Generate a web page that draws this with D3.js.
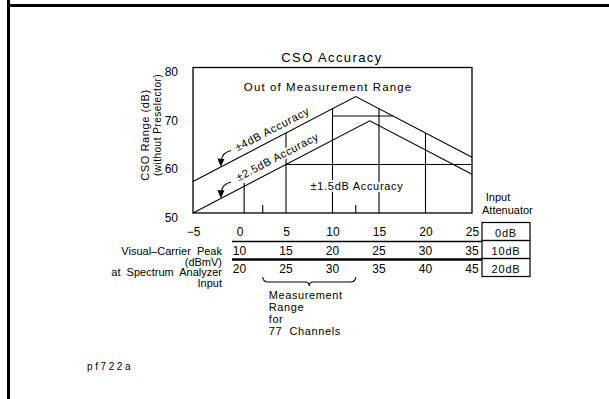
<!DOCTYPE html>
<html>
<head>
<meta charset="utf-8">
<script src="https://cdn.jsdelivr.net/npm/d3@7"></script>
<style>
  body { margin: 0; background: #fff; }
  svg text { font-family: "Liberation Sans", Arial, sans-serif; fill: #000; }
  .halo { paint-order: stroke; stroke: #fff; stroke-width: 4px; stroke-linejoin: round; }
</style>
</head>
<body>
<svg id="chart" width="609" height="399"></svg>
<script>
// Input level at the analyzer with the 0 dB attenuator setting (dBmV)
const inputTicks = [-5, 0, 5, 10, 15, 20, 25];
// CSO range axis (dB)
const rangeTicks = [50, 60, 70, 80];
// Limit curves: [input dBmV, CSO range dB]
const limit4dB = [[-5, 56.5], [12.5, 74], [25, 61.5]];
const limit25dB = [[-5, 50], [14, 69], [25, 58]];
// Horizontal zone boundaries
const boundary60 = [[5, 60], [25, 60]];
const boundary70 = [[10, 70], [16.5, 70]];
// Vertical dividers: [input, bottom dB, top dB]
const dividers = [[0.5, 50, 56.2], [5, 50, 66.5], [10, 50, 71.5], [15, 50, 71.5], [20, 50, 66.5]];
// Measurement range for 77 channels (input dBmV)
const measRange = [2.5, 12.5];
// Peak level rows for the other attenuator settings
const attenuators = ["0dB", "10dB", "20dB"];
const peakColumns = [0, 5, 10, 15, 20, 25];
const peakRow10 = [10, 15, 20, 25, 30, 35];
const peakRow20 = [20, 25, 30, 35, 40, 45];
// Arrows pointing at the limit curves: start and tip, [input, dB]
const arrows = [
  { from: [-0.9, 62.9], tip: [-2, 59.5] },
  { from: [-0.9, 56.4], tip: [-2, 53] }
];

const svg = d3.select("#chart");
const x = d3.scaleLinear().domain([-5, 25]).range([193, 472]);
const y = d3.scaleLinear().domain([50, 80]).range([213, 67.5]);
const rowY = d3.scalePoint().domain([0, 1, 2]).range([232, 268]);

// Page frame
svg.append("line").attr("x1", 7).attr("x2", 609).attr("y1", 5.5).attr("y2", 5.5)
  .attr("stroke", "#000").attr("stroke-width", 3);
svg.append("line").attr("x1", 8.5).attr("x2", 8.5).attr("y1", 0).attr("y2", 399)
  .attr("stroke", "#000").attr("stroke-width", 3);

// Title
svg.append("text").attr("x", 332).attr("y", 62).attr("text-anchor", "middle")
  .style("font-size", "13px").style("letter-spacing", "1.4px").text("CSO Accuracy");

// Plot frame
svg.append("rect").attr("x", x(-5)).attr("y", y(80))
  .attr("width", x(25) - x(-5)).attr("height", y(50) - y(80))
  .attr("fill", "none").attr("stroke", "#000").attr("stroke-width", 1.3);

const line = d3.line().x(d => x(d[0])).y(d => y(d[1]));
const plot = svg.append("g").attr("fill", "none").attr("stroke", "#000").attr("stroke-width", 1.1);

plot.selectAll(".div").data(dividers).join("line")
  .attr("x1", d => x(d[0])).attr("x2", d => x(d[0]))
  .attr("y1", d => y(d[1])).attr("y2", d => y(d[2]));
[limit4dB, limit25dB, boundary60, boundary70].forEach(p => plot.append("path").attr("d", line(p)));

// Measurement-range ticks on the bottom of the plot
plot.selectAll(".mr").data(measRange).join("line")
  .attr("x1", d => x(d)).attr("x2", d => x(d))
  .attr("y1", y(50) - 8).attr("y2", y(50));

// Arrows
arrows.forEach(a => {
  const sx = x(a.from[0]), sy = y(a.from[1]);
  const tx = x(a.tip[0]), ty = y(a.tip[1]);
  plot.append("path")
    .attr("d", `M${sx},${sy} Q${tx + 1.5},${sy + 2} ${tx + 0.5},${ty - 7}`);
  svg.append("path")
    .attr("d", `M${tx - 3.5},${ty - 8.5} L${tx + 3.5},${ty - 8} L${tx},${ty} Z`)
    .attr("fill", "#000");
});

// Zone labels
const angle = -Math.atan((y(50) - y(51)) / (x(1) - x(0))) * 180 / Math.PI;
svg.append("text").attr("x", 328).attr("y", 91).attr("text-anchor", "middle")
  .style("font-size", "11.5px").style("letter-spacing", "1.1px").text("Out of Measurement Range");
svg.append("text").attr("class", "halo")
  .attr("transform", `translate(${x(4)},${y(65.5)}) rotate(${angle})`)
  .attr("y", -6).attr("text-anchor", "middle")
  .style("font-size", "11px").style("letter-spacing", "0.7px").text("±4dB Accuracy");
svg.append("text").attr("class", "halo")
  .attr("transform", `translate(${x(4.6)},${y(59.6)}) rotate(${angle})`)
  .attr("y", -7).attr("text-anchor", "middle")
  .style("font-size", "11px").style("letter-spacing", "0.6px").text("±2.5dB Accuracy");
svg.append("text").attr("class", "halo")
  .attr("x", 357).attr("y", 190).attr("text-anchor", "middle")
  .style("font-size", "11px").style("letter-spacing", "0.7px").text("±1.5dB Accuracy");

// Axes
const yAxis = svg.append("g").attr("transform", `translate(${x(-5)},0)`)
  .call(d3.axisLeft(y).tickValues(rangeTicks).tickSize(0).tickPadding(15));
yAxis.select(".domain").remove();
yAxis.selectAll("text").attr("dy", "0.85em").attr("y", -2)
  .style("font-size", "12px").style("font-family", "'Liberation Sans', Arial, sans-serif");

const xAxis = svg.append("g").attr("transform", `translate(0,${y(50)})`)
  .call(d3.axisBottom(x).tickValues(inputTicks).tickSize(0).tickPadding(14));
xAxis.select(".domain").remove();
xAxis.selectAll("text").style("font-size", "12px")
  .style("font-family", "'Liberation Sans', Arial, sans-serif");

// Axis title
svg.append("text").attr("transform", `translate(149,135) rotate(-90)`)
  .attr("text-anchor", "middle").style("font-size", "11px").style("letter-spacing", "0.6px")
  .text("CSO Range (dB)");
svg.append("text").attr("transform", `translate(161,125) rotate(-90)`)
  .attr("text-anchor", "middle").style("font-size", "10px").style("letter-spacing", "0.5px")
  .text("(without Preselector)");

// Attenuator rows
[peakRow10, peakRow20].forEach((row, i) => {
  svg.append("g").selectAll("text").data(row).join("text")
    .attr("x", (d, j) => x(peakColumns[j]))
    .attr("y", rowY(i + 1) + 4.5).attr("text-anchor", "middle")
    .style("font-size", "12px").text(d => d);
});
svg.append("line").attr("x1", 232).attr("x2", 482).attr("y1", 241.5).attr("y2", 241.5)
  .attr("stroke", "#000").attr("stroke-width", 1.5);
svg.append("line").attr("x1", 232).attr("x2", 482).attr("y1", 259.5).attr("y2", 259.5)
  .attr("stroke", "#000").attr("stroke-width", 2.5);

const boxes = svg.append("g");
boxes.selectAll("rect").data(attenuators).join("rect")
  .attr("x", 482).attr("y", (d, i) => rowY(i) - 9.5).attr("width", 48).attr("height", 18)
  .attr("fill", "none").attr("stroke", "#000").attr("stroke-width", 1.2);
boxes.selectAll("text").data(attenuators).join("text")
  .attr("x", 506).attr("y", (d, i) => rowY(i) + 4.5).attr("text-anchor", "middle")
  .style("font-size", "11px").style("letter-spacing", "0.8px").text(d => d);
svg.append("text").attr("x", 498).attr("y", 201).attr("text-anchor", "middle")
  .style("font-size", "11px").text("Input");
svg.append("text").attr("x", 482).attr("y", 214)
  .style("font-size", "11px").text("Attenuator");

// Row caption
const caption = ["Visual–Carrier  Peak", "(dBmV)", "at  Spectrum  Analyzer", "Input"];
svg.append("g").selectAll("text").data(caption).join("text")
  .attr("x", 222).attr("y", (d, i) => 255 + i * 10.5).attr("text-anchor", "end")
  .style("font-size", "11px").style("white-space", "pre").text(d => d);

// Measurement range brace
const bx0 = x(measRange[0]), bx1 = x(measRange[1]), bm = (bx0 + bx1) / 2, bt = 277;
svg.append("path")
  .attr("d", `M${bx0},${bt} Q${bx0},${bt + 5} ${bx0 + 6},${bt + 5} L${bm - 4},${bt + 5} Q${bm},${bt + 5} ${bm},${bt + 9} Q${bm},${bt + 5} ${bm + 4},${bt + 5} L${bx1 - 6},${bt + 5} Q${bx1},${bt + 5} ${bx1},${bt}`)
  .attr("fill", "none").attr("stroke", "#000").attr("stroke-width", 1.1);
const measText = ["Measurement", "Range", "for", "77  Channels"];
svg.append("g").selectAll("text").data(measText).join("text")
  .attr("x", bx0 + 6).attr("y", (d, i) => 299 + i * 12)
  .style("font-size", "11px").style("letter-spacing", "0.6px").style("white-space", "pre")
  .text(d => d);

// Figure id
svg.append("text").attr("x", 87).attr("y", 370)
  .style("font-size", "10px").style("letter-spacing", "2.6px").text("pf722a");
</script>
</body>
</html>
